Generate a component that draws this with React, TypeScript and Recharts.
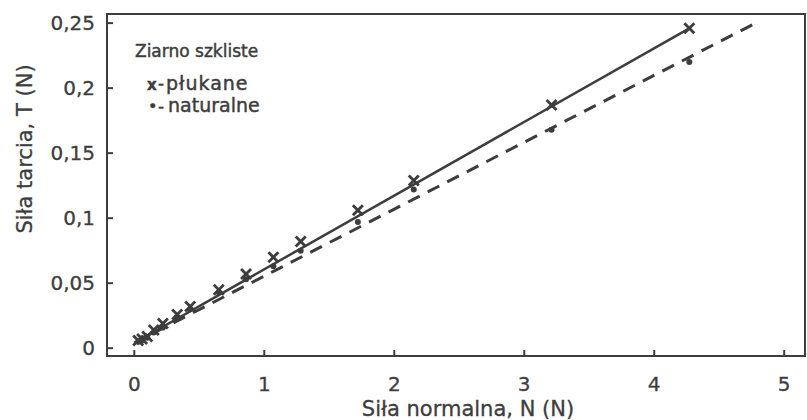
import { ComposedChart, Line, Scatter, XAxis, YAxis, ReferenceArea } from "recharts";

// Ziarno szkliste - siła tarcia vs siła normalna
const plukaneN = [0.03, 0.06, 0.1, 0.15, 0.22, 0.33, 0.43, 0.65, 0.86, 1.07, 1.28, 1.72, 2.15, 3.21, 4.27];
const plukaneT = [0.006, 0.007, 0.009, 0.014, 0.019, 0.026, 0.032, 0.045, 0.057, 0.07, 0.082, 0.106, 0.129, 0.187, 0.246];
const naturalneN = [0.03, 0.06, 0.1, 0.15, 0.22, 0.33, 0.43, 0.65, 0.86, 1.07, 1.28, 1.72, 2.15, 3.21, 4.27];
const naturalneT = [0.005, 0.006, 0.008, 0.012, 0.016, 0.024, 0.03, 0.043, 0.053, 0.063, 0.075, 0.097, 0.122, 0.168, 0.22];

// fitted lines (end points)
const fitPlukaneN = [0, 4.27];
const fitPlukaneT = [0.004, 0.246];
const fitNaturalneN = [0, 4.78];
const fitNaturalneT = [0.004, 0.25];

const xTicks = [0, 1, 2, 3, 4, 5];
const yTicks = [0, 0.05, 0.1, 0.15, 0.2, 0.25];

const X_DOMAIN = [-0.21, 5.16];
const Y_DOMAIN = [-0.006, 0.257];

const INK = "#3d3d3d";
const FONT = "'DejaVu Sans', sans-serif";

const toPoints = (ns: number[], ts: number[]) => ns.map((n, i) => ({ n, t: ts[i] }));

const plukane = toPoints(plukaneN, plukaneT);
const naturalne = toPoints(naturalneN, naturalneT);
const fitPlukane = toPoints(fitPlukaneN, fitPlukaneT);
const fitNaturalne = toPoints(fitNaturalneN, fitNaturalneT);

const fmt = (v: number) => String(v).replace(".", ",");

const CrossShape = (props: any) => {
  const { cx, cy } = props;
  const s = 5;
  return (
    <g stroke={INK} strokeWidth={2.8}>
      <line x1={cx - s} y1={cy - s} x2={cx + s} y2={cy + s} />
      <line x1={cx - s} y1={cy + s} x2={cx + s} y2={cy - s} />
    </g>
  );
};

const DotShape = (props: any) => <circle cx={props.cx} cy={props.cy} r={3} fill={INK} />;

const YTick = (props: any) => {
  const { x, y, payload } = props;
  return (
    <g>
      <line x1={x + 12} x2={x + 18} y1={y} y2={y} stroke={INK} strokeWidth={2} />
      <text x={x} y={y} textAnchor="end" dominantBaseline="central" fontSize={20} fontFamily={FONT} fill={INK} stroke={INK} strokeWidth={0.3}>
        {fmt(payload.value)}
      </text>
    </g>
  );
};

const XTick = (props: any) => {
  const { x, y, payload } = props;
  return (
    <g>
      <line x1={x} x2={x} y1={y} y2={y - 6} stroke={INK} strokeWidth={2} />
      <text x={x} y={y + 28} textAnchor="middle" dominantBaseline="central" fontSize={20} fontFamily={FONT} fill={INK} stroke={INK} strokeWidth={0.3}>
        {fmt(payload.value)}
      </text>
    </g>
  );
};

export default function App() {
  return (
    <div style={{ position: "absolute", left: 0, top: 0, width: 807, height: 420, background: "#fff" }}>
      <ComposedChart width={807} height={420} margin={{ top: 14, right: 2, bottom: 34, left: 47 }}>
        <XAxis
          type="number"
          dataKey="n"
          domain={X_DOMAIN}
          ticks={xTicks}
          allowDataOverflow
          height={30}
          tickSize={0}
          tickMargin={0}
          tickLine={false}
          axisLine={{ stroke: INK, strokeWidth: 2 }}
          tick={<XTick />}
          label={{
            content: () => (
              <text x={468} y={409} textAnchor="middle" dominantBaseline="central" fontSize={21} fontFamily={FONT} fill={INK} stroke={INK} strokeWidth={0.3}>
                Siła normalna, N (N)
              </text>
            ),
          }}
        />
        <YAxis
          type="number"
          dataKey="t"
          domain={Y_DOMAIN}
          ticks={yTicks}
          allowDataOverflow
          width={60}
          tickSize={0}
          tickMargin={12}
          tickLine={false}
          axisLine={{ stroke: INK, strokeWidth: 2 }}
          tick={<YTick />}
          label={{
            content: () => (
              <text
                x={25}
                y={149}
                transform="rotate(-90 25 149)"
                textAnchor="middle"
                dominantBaseline="central"
                fontSize={21}
                fontFamily={FONT}
                fill={INK}
                stroke={INK}
                strokeWidth={0.3}
              >
                Siła tarcia, T (N)
              </text>
            ),
          }}
        />
        <ReferenceArea x1={X_DOMAIN[0]} x2={X_DOMAIN[1]} y1={Y_DOMAIN[0]} y2={Y_DOMAIN[1]} fill="none" stroke={INK} strokeWidth={2} fillOpacity={0} />
        <Line data={fitNaturalne} dataKey="t" type="linear" stroke={INK} strokeWidth={3} strokeDasharray="13 9" dot={false} isAnimationActive={false} />
        <Line data={fitPlukane} dataKey="t" type="linear" stroke={INK} strokeWidth={2.5} dot={false} isAnimationActive={false} />
        <Scatter data={naturalne} dataKey="t" shape={<DotShape />} isAnimationActive={false} />
        <Scatter data={plukane} dataKey="t" shape={<CrossShape />} isAnimationActive={false} />
      </ComposedChart>
      {/* legend as a plain overlay so it does not shrink the plot */}
      <svg width={220} height={90} style={{ position: "absolute", left: 120, top: 30 }}>
        <g fontFamily={FONT} fill={INK} stroke={INK} strokeWidth={0.45}>
          <text x={15} y={27} fontSize={17}>Ziarno szkliste</text>
          <text x={27} y={60} fontSize={15} fontWeight="bold">x</text>
          <text x={38} y={59} fontSize={17}>-</text>
          <text x={46} y={60} fontSize={19} letterSpacing={1}>płukane</text>
          <text x={28} y={82} fontSize={16}>•</text>
          <text x={38} y={82} fontSize={17}>-</text>
          <text x={48} y={82} fontSize={19}>naturalne</text>
        </g>
      </svg>
    </div>
  );
}
